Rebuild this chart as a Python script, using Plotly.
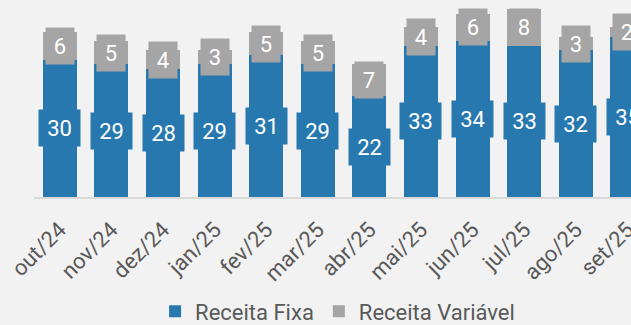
import plotly.graph_objects as go

# Monthly revenue split (fixed vs variable)
months = ["out/24", "nov/24", "dez/24", "jan/25", "fev/25", "mar/25",
          "abr/25", "mai/25", "jun/25", "jul/25", "ago/25", "set/25"]
receita_fixa = [30, 29, 28, 29, 31, 29, 22, 33, 34, 33, 32, 35]
receita_variavel = [6, 5, 4, 3, 5, 5, 7, 4, 6, 8, 3, 2]

BLUE = "#2878B0"
GRAY = "#A5A5A5"
BG = "#F2F2F2"

fig = go.Figure()
fig.add_trace(go.Bar(x=months, y=receita_fixa, name="Receita Fixa",
                     marker=dict(color=BLUE, line=dict(width=0))))
fig.add_trace(go.Bar(x=months, y=receita_variavel, name="Receita Variável",
                     marker=dict(color=GRAY, line=dict(width=0))))

# Value labels in filled boxes, centred on each segment
annotations = []
for m, f, v in zip(months, receita_fixa, receita_variavel):
    for val, base, col in ((f, 0, BLUE), (v, f, GRAY)):
        annotations.append(dict(
            x=m, y=base + val / 2, xref="x", yref="y",
            text=str(val), showarrow=False,
            font=dict(family="Roboto", size=22, color="white"),
            bgcolor=col, borderpad=5,
            width=13 * len(str(val)) + 5, height=26,
        ))

fig.update_layout(
    width=631, height=325,
    margin=dict(l=34, r=0, t=0, b=128, autoexpand=False),
    paper_bgcolor=BG, plot_bgcolor=BG,
    barmode="stack", bargap=0.34,
    font=dict(family="Roboto", color="#595959"),
    annotations=annotations,
    showlegend=True,
    legend=dict(orientation="h", xref="container", yref="container",
                x=0.535, xanchor="center", y=0.106, yanchor="top",
                font=dict(size=22, color="#595959"),
                bgcolor="rgba(0,0,0,0)", itemwidth=30, traceorder="normal"),
)
fig.update_xaxes(
    range=[-0.5, 11.07], showgrid=False, showline=True,
    linecolor="#D9D9D9", linewidth=2, ticks="",
    tickangle=-45, tickfont=dict(size=22, color="#595959"),
    ticklabelstandoff=9, automargin=False,
    fixedrange=True,
)
fig.update_yaxes(range=[0, 43], visible=False, showgrid=False,
                 automargin=False, fixedrange=True)

fig.write_html("out.html")
